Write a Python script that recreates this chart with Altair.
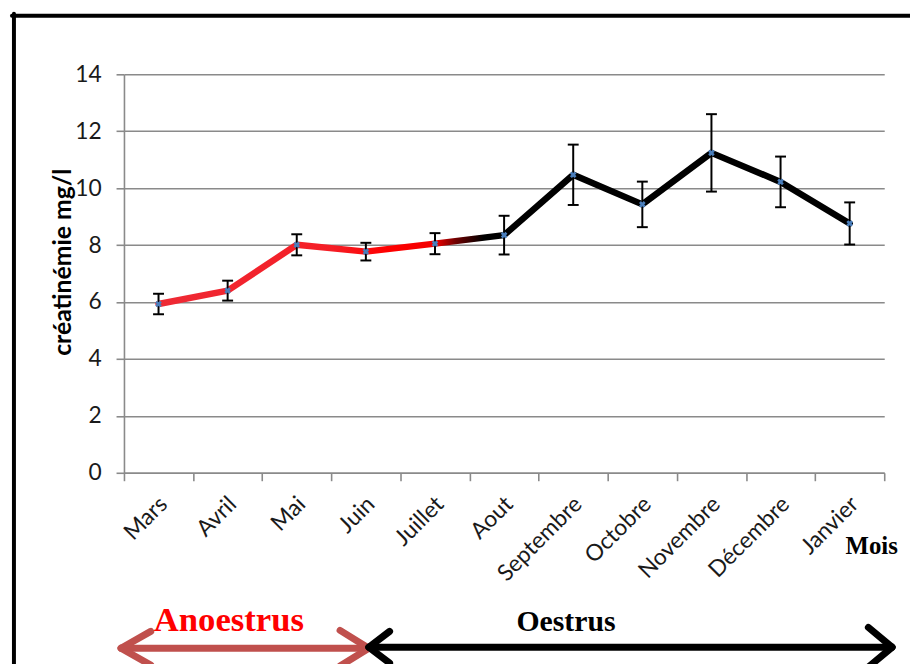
import altair as alt
import pandas as pd

# ---- data ----
months = ["Mars", "Avril", "Mai", "Juin", "Juillet", "Aout",
          "Septembre", "Octobre", "Novembre", "Décembre", "Janvier"]
means = [5.93, 6.40, 8.01, 7.77, 8.05, 8.35, 10.47, 9.43, 11.24, 10.22, 8.76]
errors = [0.36, 0.35, 0.37, 0.31, 0.37, 0.68, 1.06, 0.80, 1.36, 0.89, 0.74]
y_ticks = [0, 2, 4, 6, 8, 10, 12, 14]

df = pd.DataFrame({"month": months, "mean": means, "err": errors})
df["lo"] = df["mean"] - df["err"]
df["hi"] = df["mean"] + df["err"]

W, H = 767, 402
GRID = "#8a8a8a"
FONT = "Lato"

yaxis = alt.Axis(values=y_ticks, grid=True, gridColor=GRID, gridWidth=1.6,
                 domainColor=GRID, domainWidth=1.6, tickColor=GRID, tickWidth=1.6,
                 tickSize=8, labelFont=FONT, labelFontSize=23, labelColor="#1a1a1a",
                 labelPadding=15, title="créatinémie mg/l", titleFont=FONT,
                 titleFontSize=25, titleFontWeight="bold", titleColor="#000000",
                 titleAngle=270, titleX=-62, titleY=189, titleAlign="center",
                 titleBaseline="middle")
xaxis = alt.Axis(tickBand="extent", grid=False, domainColor=GRID, domainWidth=1.6,
                 tickColor=GRID, tickWidth=1.6, tickSize=8, labelFont=FONT,
                 labelFontSize=23, labelColor="#1a1a1a", labelAngle=315,
                 labelPadding=12, labelOffset=-3, title=None)
yscale = alt.Scale(domain=[0, 14], nice=False, zero=True)
xscale = alt.Scale(type="band", paddingInner=0, paddingOuter=0)

def X():
    return alt.X("month:N", sort=months, scale=xscale, bandPosition=0.5, axis=xaxis)

base = alt.Chart(df)

grad = alt.Gradient(
    gradient="linear", x1=0, x2=1, y1=0, y2=0,
    stops=[alt.GradientStop(offset=0.0, color="#ee2a35"),
           alt.GradientStop(offset=0.25, color="#f51e26"),
           alt.GradientStop(offset=0.33, color="#ff0000"),
           alt.GradientStop(offset=0.40, color="#f20000"),
           alt.GradientStop(offset=0.43, color="#700000"),
           alt.GradientStop(offset=0.47, color="#000000"),
           alt.GradientStop(offset=1.0, color="#000000")])

line = base.mark_line(stroke=grad, strokeWidth=6.5, strokeJoin="round", strokeCap="round").encode(
    x=X(), y=alt.Y("mean:Q", scale=yscale, axis=yaxis))
bars = base.mark_rule(color="#000000", strokeWidth=2).encode(
    x=X(), y=alt.Y("lo:Q", scale=yscale, axis=yaxis), y2="hi:Q")
cap_lo = base.mark_point(shape="stroke", size=121, strokeWidth=2, color="#000000", opacity=1).encode(
    x=X(), y=alt.Y("lo:Q", scale=yscale, axis=yaxis))
cap_hi = base.mark_point(shape="stroke", size=121, strokeWidth=2, color="#000000", opacity=1).encode(
    x=X(), y=alt.Y("hi:Q", scale=yscale, axis=yaxis))
marks = base.mark_point(shape="cross", angle=45, filled=True, size=45, color="#4a7ebb", opacity=1).encode(
    x=X(), y=alt.Y("mean:Q", scale=yscale, axis=yaxis))

# ---- decoration geometry (pixels relative to the plot area) ----
segs = pd.DataFrame({
    "x":  [-111, -113, -1, -3, -3, 247, 247, 249, 247, 247, 775, 775],
    "y":  [-61, -59, 579, 579, 579, 579, 579, 578, 578, 578, 578, 578],
    "x2": [-111, 800, 243, 27, 27, 218, 218, 773, 268, 268, 751, 751],
    "y2": [600, -59, 579, 562, 596, 561, 597, 578, 562, 594, 558, 598],
    "w":  [4, 4, 7, 7, 7, 7, 7, 7, 7, 7, 7, 7],
    "c":  ["#000000", "#000000", "#c0504d", "#c0504d", "#c0504d", "#c0504d", "#c0504d",
           "#000000", "#000000", "#000000", "#000000", "#000000"],
})
deco = alt.Chart(segs).mark_rule(strokeCap="round").encode(
    x=alt.X("x:Q", scale=None, axis=None), y=alt.Y("y:Q", scale=None, axis=None),
    x2="x2:Q", y2="y2:Q",
    color=alt.Color("c:N", scale=None, legend=None),
    strokeWidth=alt.StrokeWidth("w:Q", scale=None, legend=None))

texts = pd.DataFrame({
    "t": ["Mois", "Anoestrus", "Oestrus"],
    "x": [728, 30, 396],
    "y": [484, 562, 562],
    "fs": [25, 35, 30],
    "c": ["#000000", "#ff0000", "#000000"],
})
labels = alt.Chart(texts).mark_text(font="Liberation Serif", fontWeight="bold",
                                    align="left", baseline="alphabetic").encode(
    x=alt.X("x:Q", scale=None, axis=None), y=alt.Y("y:Q", scale=None, axis=None),
    text="t:N", size=alt.Size("fs:Q", scale=None, legend=None),
    color=alt.Color("c:N", scale=None, legend=None))

chart = alt.layer(line, bars, cap_lo, cap_hi, marks, deco, labels).properties(
    width=W, height=H,
    padding={"left": 117, "top": 64, "right": 26, "bottom": 190},
    autosize=alt.AutoSizeParams(type="none"),
    background="#ffffff",
).configure_view(stroke=None)

chart.save("out.html", embed_options={"renderer": "svg", "actions": False})
